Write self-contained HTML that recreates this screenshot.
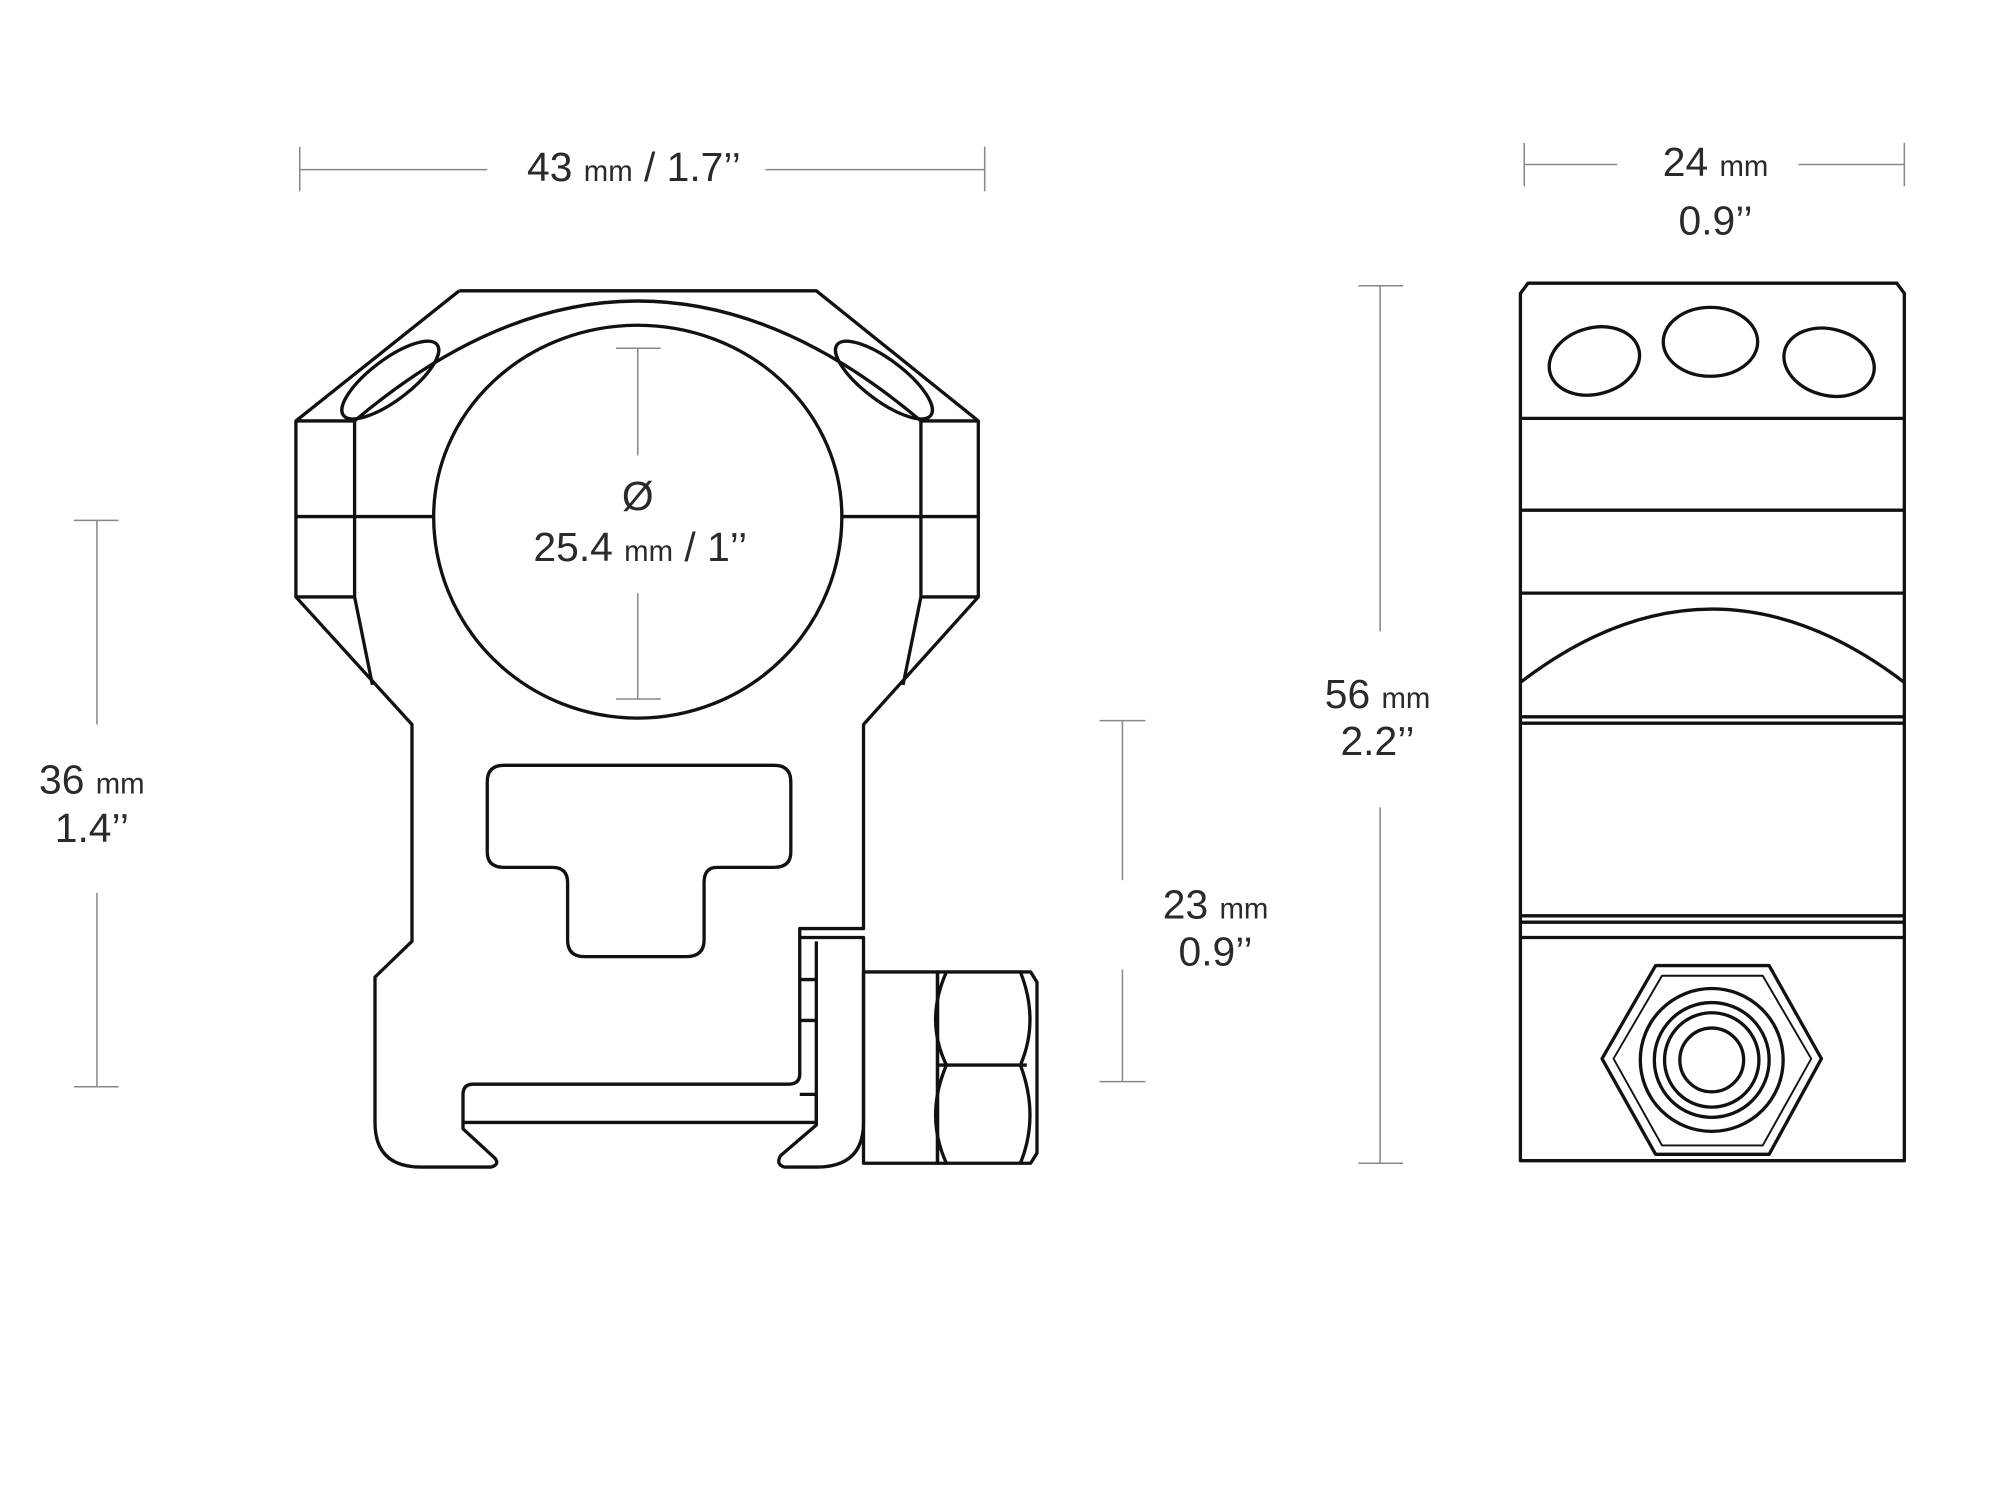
<!DOCTYPE html>
<html><head><meta charset="utf-8"><style>
html,body{margin:0;padding:0;background:#fff;width:2000px;height:1500px;overflow:hidden}
svg{display:block}
text{font-family:"Liberation Sans",sans-serif;fill:#2a2a2a;font-weight:300}
.b{font-size:32px}.s{font-size:23px}
</style></head><body>
<svg width="2000" height="1500" viewBox="0 0 1568 1176" xmlns="http://www.w3.org/2000/svg">
<g fill="none" stroke="#888" stroke-width="1.2">
<line x1="235" y1="133" x2="382" y2="133"/><line x1="600" y1="133" x2="772" y2="133"/>
<line x1="235" y1="115" x2="235" y2="150"/><line x1="772" y1="115" x2="772" y2="150"/>
<line x1="1195" y1="129" x2="1268" y2="129"/><line x1="1410" y1="129" x2="1493" y2="129"/>
<line x1="1195" y1="112" x2="1195" y2="146"/><line x1="1493" y1="112" x2="1493" y2="146"/>
<line x1="76" y1="408" x2="76" y2="568"/><line x1="76" y1="700" x2="76" y2="852"/>
<line x1="58" y1="408" x2="93" y2="408"/><line x1="58" y1="852" x2="93" y2="852"/>
<line x1="880" y1="565" x2="880" y2="690"/><line x1="880" y1="760" x2="880" y2="848"/>
<line x1="862" y1="565" x2="898" y2="565"/><line x1="862" y1="848" x2="898" y2="848"/>
<line x1="1082" y1="224" x2="1082" y2="495"/><line x1="1082" y1="633" x2="1082" y2="912"/>
<line x1="1065" y1="224" x2="1100" y2="224"/><line x1="1065" y1="912" x2="1100" y2="912"/>
<line x1="500" y1="273" x2="500" y2="357"/><line x1="500" y1="465" x2="500" y2="548"/>
<line x1="483" y1="273" x2="518" y2="273"/><line x1="483" y1="548" x2="518" y2="548"/>
</g>
<g fill="none" stroke="#111" stroke-width="2.6" stroke-linejoin="round">
<path d="M360,228 L640,228 L767,330 L767,468 L677,568 L677,728 L627,728 L627,735"/>
<path d="M360,228 L232,330 L232,468 L323,568 L323,738 L294,766 L294,880 Q294,915 330,915 L385,915 Q392,913 388,908 L363,885 L363,858 Q363,850 371,850 L618,850 Q627,850 627,842 L627,735"/>
<path d="M232,330 L278,330 M722,330 L767,330 M278,330 L278,468 M722,330 L722,468 M232,405 L340,405 M660,405 L767,405 M232,468 L278,468 M722,468 L767,468 M278,468 L292,537 M722,468 L708,537"/>
<path d="M278,330 Q500,142 722,330"/>
<path d="M340,405 A160,150 0 1 1 660,405 M340,405 A160,158 0 0 0 660,405"/>
<ellipse cx="306" cy="298" rx="46" ry="16" transform="rotate(-37 306 298)"/>
<ellipse cx="693" cy="298" rx="46" ry="16" transform="rotate(37 693 298)"/>
<path d="M395,600 L607,600 Q620,600 620,613 L620,668 Q620,680 607,680 L562,680 Q552,680 552,692 L552,737 Q552,750 538,750 L458,750 Q445,750 445,737 L445,692 Q445,680 433,680 L395,680 Q382,680 382,668 L382,613 Q382,600 395,600 Z"/>
<path d="M627,735 L677,735 Q677,741 677,760 L677,880 Q677,915 640,915 L615,915 Q608,913 612,906 L640,882 L640,858 L627,858"/>
<path d="M640,738 L640,882 M627,768 L640,768 M627,800 L640,800 M363,880 L640,880"/>
<rect x="677" y="762" width="58" height="150"/>
<path d="M735,762 L808,762 L813,770 L813,904 L808,912 L735,912 Z"/>
<path d="M735,835 L805,835 M742,762 Q725,800 742,835 Q725,875 742,912 M800,762 Q815,800 800,835 Q815,875 800,912"/>
<path d="M1198,222 L1487,222 L1493,230 L1493,910 L1192,910 L1192,230 Z"/>
<path d="M1192,328 L1493,328 M1192,400 L1493,400 M1192,465 L1493,465 M1192,562 L1493,562 M1192,567 L1493,567 M1192,718 L1493,718 M1192,723 L1493,723 M1192,735 L1493,735"/>
<path d="M1192,535 Q1342,420 1493,535"/>
<ellipse cx="1250" cy="283" rx="36" ry="26" transform="rotate(-15 1250 283)"/>
<ellipse cx="1341" cy="268" rx="37" ry="27"/>
<ellipse cx="1434" cy="284" rx="36" ry="26" transform="rotate(15 1434 284)"/>
<path d="M1298,757 L1387,757 L1428,830 L1387,905 L1298,905 L1256,830 Z"/>
<path d="M1303,765 L1382,765 L1420,830 L1382,898 L1303,898 L1265,830 Z" stroke-width="1.5"/>
<circle cx="1342" cy="831" r="56"/><circle cx="1342" cy="831" r="45"/><circle cx="1342" cy="831" r="37"/><circle cx="1342" cy="831" r="25"/>
</g>
<g text-anchor="middle">
<text x="497" y="142"><tspan class="b">43 </tspan><tspan class="s">mm</tspan><tspan class="b"> / 1.7’’</tspan></text>
<text x="1345" y="138"><tspan class="b">24 </tspan><tspan class="s">mm</tspan></text>
<text x="1345" y="184" class="b">0.9’’</text>
<text x="72" y="622"><tspan class="b">36 </tspan><tspan class="s">mm</tspan></text>
<text x="72" y="660" class="b">1.4’’</text>
<text x="953" y="720"><tspan class="b">23 </tspan><tspan class="s">mm</tspan></text>
<text x="953" y="757" class="b">0.9’’</text>
<text x="1080" y="555"><tspan class="b">56 </tspan><tspan class="s">mm</tspan></text>
<text x="1080" y="592" class="b">2.2’’</text>
<text x="500" y="400" class="b">Ø</text>
<text x="502" y="440"><tspan class="b">25.4 </tspan><tspan class="s">mm</tspan><tspan class="b"> / 1’’</tspan></text>
</g>
</svg>
</body></html>
